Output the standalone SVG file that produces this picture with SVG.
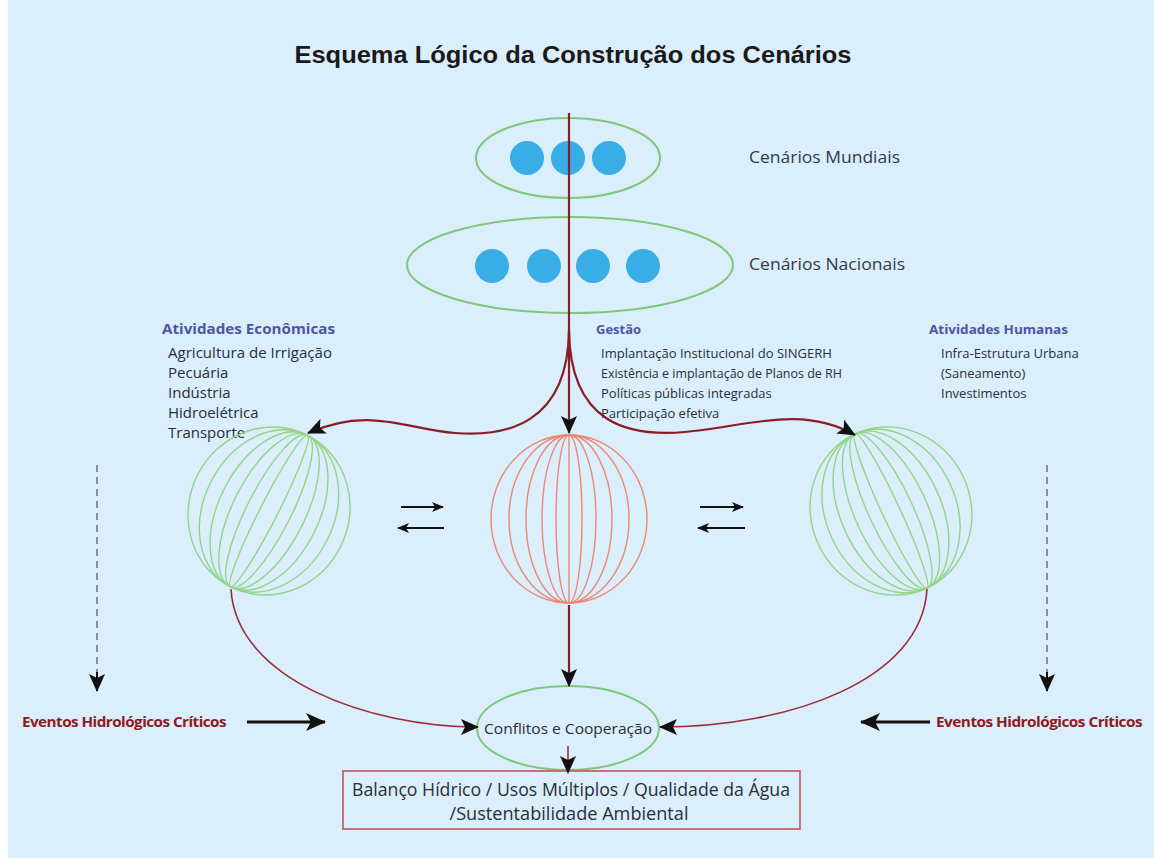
<svg xmlns="http://www.w3.org/2000/svg" width="1154" height="861" viewBox="0 0 1154 861">
<defs>
<style>
.bg{fill:#daeefb}
.title{font-family:"Liberation Sans",Arial,sans-serif;font-weight:bold;font-size:23px;fill:#1a1a1a}
.lbl{font-family:"Open Sans","Noto Sans",sans-serif;font-size:17px;fill:#343a44}
.hdr{font-family:"Open Sans","Noto Sans",sans-serif;font-weight:bold;font-size:13px;fill:#4f55a6}
.hdrl{font-family:"Open Sans","Noto Sans",sans-serif;font-weight:bold;font-size:15px;fill:#4f55a6}
.item{font-family:"Open Sans","Noto Sans",sans-serif;font-size:13px;fill:#2a2e36}
.iteml{font-family:"Open Sans","Noto Sans",sans-serif;font-size:15px;fill:#2a2e36}
.ev{font-family:"Open Sans","Noto Sans",sans-serif;font-weight:bold;font-size:14.5px;fill:#8e1a22;letter-spacing:-0.5px}
.small{font-family:"Open Sans","Noto Sans",sans-serif;font-size:14.5px;fill:#2a2e36}
.box{font-family:"Open Sans","Noto Sans",sans-serif;font-size:17.5px;fill:#2a2e36}
.ell{fill:none;stroke:#7fc77a;stroke-width:2}
.dot{fill:#38ade6}
.gm{fill:none;stroke:#93d488;stroke-width:1.4}
.rm{fill:none;stroke:#ef8573;stroke-width:1.4}
.red{fill:none;stroke:#8a1c26;stroke-width:2.2}
.redt{fill:none;stroke:#9c2c38;stroke-width:1.6}
.blk{fill:none;stroke:#111;stroke-width:2}
.blkb{fill:none;stroke:#111;stroke-width:3}
.dash{fill:none;stroke:#555;stroke-width:1.2;stroke-dasharray:7 5}
</style>
<marker id="ah" markerUnits="userSpaceOnUse" markerWidth="18" markerHeight="16" refX="17" refY="8" orient="auto">
<path d="M0,0 L18,8 L0,16 L4,8 Z" fill="#111"/>
</marker>
<marker id="ahb" markerUnits="userSpaceOnUse" markerWidth="20" markerHeight="18" refX="19" refY="9" orient="auto">
<path d="M0,0 L20,9 L0,18 L5,9 Z" fill="#111"/>
</marker>
<marker id="ahs" markerUnits="userSpaceOnUse" markerWidth="12" markerHeight="10" refX="11" refY="5" orient="auto">
<path d="M0,0 L12,5 L0,10 L3,5 Z" fill="#111"/>
</marker>
</defs>
<rect x="0" y="0" width="1154" height="861" fill="#ffffff"/>
<rect class="bg" x="8" y="0" width="1146" height="858"/>

<text class="title" x="573" y="63" text-anchor="middle" textLength="557" lengthAdjust="spacingAndGlyphs">Esquema Lógico da Construção dos Cenários</text>

<g id="cenarios-mundiais">
<ellipse class="ell" cx="568" cy="158" rx="92" ry="40"/>
<circle class="dot" cx="527" cy="158" r="17"/>
<circle class="dot" cx="568" cy="158" r="17"/>
<circle class="dot" cx="609" cy="158" r="17"/>
<text class="lbl" x="749" y="163" textLength="151" lengthAdjust="spacingAndGlyphs">Cenários Mundiais</text>
</g>

<g id="cenarios-nacionais">
<ellipse class="ell" cx="570" cy="265" rx="163" ry="48"/>
<circle class="dot" cx="492" cy="266" r="17"/>
<circle class="dot" cx="544" cy="266" r="17"/>
<circle class="dot" cx="593" cy="266" r="17"/>
<circle class="dot" cx="643" cy="266" r="17"/>
<text class="lbl" x="749" y="270" textLength="156" lengthAdjust="spacingAndGlyphs">Cenários Nacionais</text>
</g>

<g id="atividades-economicas">
<text class="hdrl" x="162" y="334" textLength="173" lengthAdjust="spacingAndGlyphs">Atividades Econômicas</text>
<text class="iteml" x="168" y="358" textLength="164" lengthAdjust="spacingAndGlyphs">Agricultura de Irrigação</text>
<text class="iteml" x="168" y="378">Pecuária</text>
<text class="iteml" x="168" y="398">Indústria</text>
<text class="iteml" x="168" y="418">Hidroelétrica</text>
<text class="iteml" x="168" y="438">Transporte</text>
</g>

<g id="gestao">
<text class="hdr" x="596" y="334">Gestão</text>
<text class="item" x="601" y="358" textLength="231" lengthAdjust="spacingAndGlyphs">Implantação Institucional do SINGERH</text>
<text class="item" x="601" y="378" textLength="241" lengthAdjust="spacingAndGlyphs">Existência e implantação de Planos de RH</text>
<text class="item" x="601" y="398">Políticas públicas integradas</text>
<text class="item" x="601" y="418">Participação efetiva</text>
</g>

<g id="atividades-humanas">
<text class="hdr" x="929" y="334" textLength="139" lengthAdjust="spacingAndGlyphs">Atividades Humanas</text>
<text class="item" x="941" y="358">Infra-Estrutura  Urbana</text>
<text class="item" x="941" y="378">(Saneamento)</text>
<text class="item" x="941" y="398">Investimentos</text>
</g>

<g id="esfera-economica" transform="translate(269,511) rotate(27)">
<ellipse class="gm" rx="80" ry="85"/>
<ellipse class="gm" rx="65" ry="85"/>
<ellipse class="gm" rx="50" ry="85"/>
<ellipse class="gm" rx="36" ry="85"/>
<ellipse class="gm" rx="22" ry="85"/>
<ellipse class="gm" rx="9" ry="85"/>
</g>

<g id="esfera-gestao" transform="translate(569,519)">
<ellipse class="rm" rx="78" ry="84"/>
<ellipse class="rm" rx="60" ry="84"/>
<ellipse class="rm" rx="43" ry="84"/>
<ellipse class="rm" rx="27" ry="84"/>
<ellipse class="rm" rx="13" ry="84"/>
<line class="rm" x1="0" y1="-84" x2="0" y2="84"/>
</g>

<g id="esfera-humana" transform="translate(891,511) rotate(-25)">
<ellipse class="gm" rx="80" ry="85"/>
<ellipse class="gm" rx="65" ry="85"/>
<ellipse class="gm" rx="50" ry="85"/>
<ellipse class="gm" rx="36" ry="85"/>
<ellipse class="gm" rx="22" ry="85"/>
<ellipse class="gm" rx="9" ry="85"/>
</g>

<g id="eventos-esq">
<text class="ev" x="22" y="727" textLength="204" lengthAdjust="spacingAndGlyphs">Eventos Hidrológicos Críticos</text>
</g>
<g id="eventos-dir">
<text class="ev" x="936" y="727" textLength="206" lengthAdjust="spacingAndGlyphs">Eventos Hidrológicos Críticos</text>
</g>

<g id="conflitos">
<ellipse class="ell" cx="568" cy="728" rx="91" ry="42"/>
<text class="small" x="568" y="734" text-anchor="middle" textLength="168" lengthAdjust="spacingAndGlyphs">Conflitos e Cooperação</text>
</g>

<g id="balanco">
<rect x="343" y="771" width="457" height="58" fill="none" stroke="#c4505c" stroke-width="1.6"/>
<text class="box" x="571" y="796" text-anchor="middle" textLength="438" lengthAdjust="spacingAndGlyphs">Balanço Hídrico / Usos Múltiplos / Qualidade da Água</text>
<text class="box" x="569" y="820" text-anchor="middle" textLength="239" lengthAdjust="spacingAndGlyphs">/Sustentabilidade Ambiental</text>
</g>

<g id="connectors">
<line class="red" x1="569" y1="113" x2="569" y2="433" marker-end="url(#ah)"/>
<path class="red" d="M569,330 C568,425 505,437 455,433 C405,429 370,406 308,433" marker-end="url(#ah)"/>
<path class="red" d="M569,330 C570,425 630,437 685,432 C745,427 800,404 855,435" marker-end="url(#ah)"/>
<line class="red" x1="569" y1="605" x2="569" y2="686" marker-end="url(#ah)"/>
<path class="redt" d="M231,589 C236,680 370,727 478,727" marker-end="url(#ah)"/>
<path class="redt" d="M927,589 C922,680 790,727 660,727" marker-end="url(#ah)"/>
<line class="redt" x1="568" y1="746" x2="568" y2="773" marker-end="url(#ah)"/>
<line class="blk" x1="401" y1="507" x2="443" y2="507" marker-end="url(#ahs)"/>
<line class="blk" x1="444" y1="528" x2="398" y2="528" marker-end="url(#ahs)"/>
<line class="blk" x1="700" y1="507" x2="743" y2="507" marker-end="url(#ahs)"/>
<line class="blk" x1="745" y1="528" x2="698" y2="528" marker-end="url(#ahs)"/>
<line class="dash" x1="97" y1="465" x2="97" y2="675"/>
<line class="blk" x1="97" y1="672" x2="97" y2="691" marker-end="url(#ah)"/>
<line class="dash" x1="1047" y1="465" x2="1047" y2="675"/>
<line class="blk" x1="1047" y1="672" x2="1047" y2="691" marker-end="url(#ah)"/>
<line class="blkb" x1="247" y1="722" x2="325" y2="722" marker-end="url(#ahb)"/>
<line class="blkb" x1="930" y1="722" x2="861" y2="722" marker-end="url(#ahb)"/>
</g>
</svg>
